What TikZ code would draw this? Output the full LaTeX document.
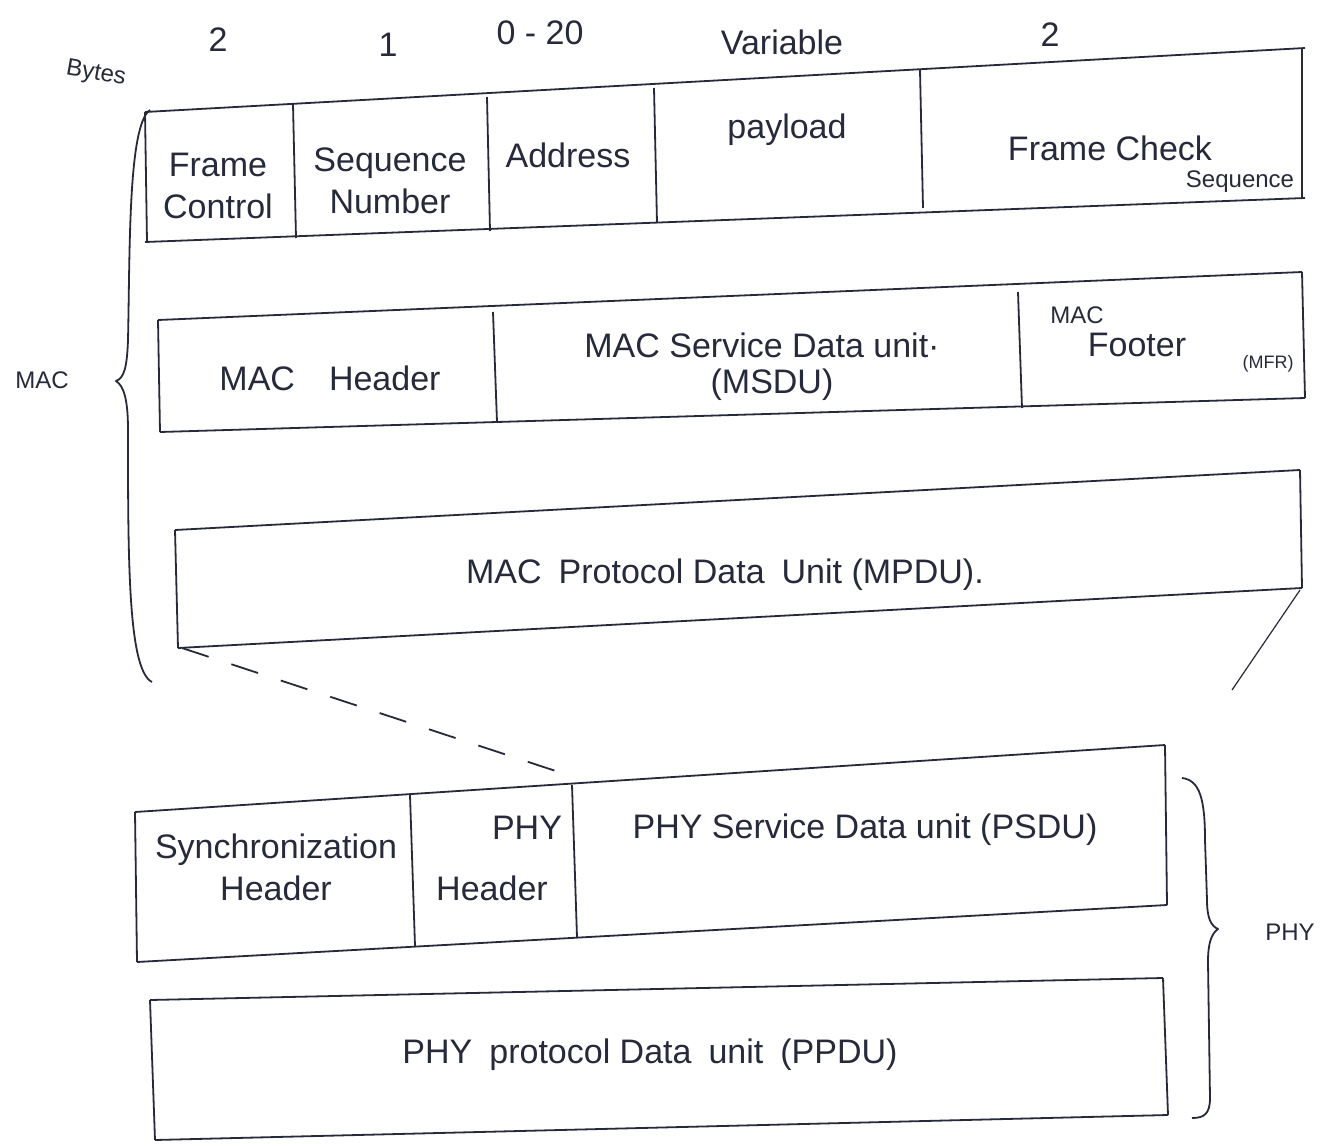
\documentclass[tikz,border=0pt]{standalone}
\usepackage{fontspec}
\setmainfont{Liberation Sans}
\begin{document}
\begin{tikzpicture}[x=0.5pt,y=-0.5pt,
  ink/.style={draw=inkc, line width=0.9pt, line join=round},
  lbl/.style={text=inkc, font=\fontsize{17}{21}\selectfont, inner sep=1pt, align=center},
  small/.style={text=inkc, font=\fontsize{12}{14}\selectfont, inner sep=1pt},
  tiny/.style={text=inkc, font=\fontsize{9}{11}\selectfont, inner sep=1pt}]
\definecolor{inkc}{RGB}{38,42,58}
\useasboundingbox (0,0) rectangle (1329,1146);
\fill[white] (0,0) rectangle (1329,1146);

% ---------- Row 1: frame fields ----------
\draw[ink] (145,112) -- (1305,48);
\draw[ink] (145,242) -- (1305,198);
\draw[ink] (145,112) -- (147,242);
\draw[ink] (293,104) -- (296,238);
\draw[ink] (487,97) -- (490,231);
\draw[ink] (654,88) -- (657,223);
\draw[ink] (920,70) -- (923,208);
\draw[ink] (1302,48) -- (1302,198);

\node[lbl] (b1) at (218,40) {2};
\node[lbl] (b2) at (388,45) {1};
\node[lbl] (b3) at (540,33) {0 - 20};
\node[lbl] (b4) at (782,42) {Variable};
\node[lbl] (b5) at (1050,35) {2};
\node[small, rotate=-10] (bytes) at (96,74) {Bytes};

\node[lbl] (fc) at (218,186) {Frame\\Control};
\node[lbl] (sn) at (390,181) {Sequence\\Number};
\node[lbl] (ad) at (568,155) {Address};
\node[lbl] (pl) at (787,130) {payload};
\node[lbl] (fcs1) at (1110,148) {Frame Check};
\node[small] (fcs2) at (1240,182) {Sequence};

% ---------- Row 2: MAC frame ----------
\draw[ink] (158,320) -- (1302,272);
\draw[ink] (160,432) -- (1305,398);
\draw[ink] (158,320) -- (160,432);
\draw[ink] (493,312) -- (497,422);
\draw[ink] (1018,292) -- (1022,408);
\draw[ink] (1302,272) -- (1305,398);

\node[lbl] (mh) at (330,378) {MAC\quad Header};
\node[lbl] (msdu1) at (762,345) {MAC Service Data unit\textperiodcentered};
\node[lbl] (msdu2) at (772,385) {(MSDU)};
\node[small] (mf1) at (1077,315) {MAC};
\node[lbl] (mf2) at (1137,345) {Footer};
\node[tiny] (mf3) at (1268,364) {(MFR)};

% ---------- Row 3: MPDU ----------
\draw[ink] (175,530) -- (1300,470);
\draw[ink] (178,648) -- (1302,588);
\draw[ink] (175,530) -- (178,648);
\draw[ink] (1300,470) -- (1302,588);
\node[lbl] (mpdu) at (725,575) {MAC\enspace Protocol Data\enspace Unit (MPDU).};

% MAC brace
\draw[ink] (150,110) .. controls (128,125) and (130,250) .. (128,340)
  .. controls (127,368) and (124,378) .. (116,381)
  .. controls (124,386) and (128,400) .. (128,430)
  .. controls (128,560) and (128,670) .. (152,682);
\node[small] (mac) at (42,380) {MAC};

% connectors MPDU -> PSDU
\coordinate (dA) at (182,648);
\coordinate (dB) at (574,777);
\draw[ink, dash pattern=on 14pt off 12pt] (dA) -- (dB);
\coordinate (sA) at (1300,590);
\coordinate (sB) at (1232,690);
\draw[ink, line width=0.6pt] (sA) -- (sB);

% ---------- Row 4: PHY frame ----------
\draw[ink] (135,812) -- (1165,745);
\draw[ink] (137,962) -- (1167,905);
\draw[ink] (135,812) -- (137,962);
\draw[ink] (410,795) -- (415,946);
\draw[ink] (572,785) -- (577,937);
\draw[ink] (1165,745) -- (1167,905);

\node[lbl] (sh) at (276,867) {Synchronization\\Header};
\node[lbl] (ph1) at (527,828) {PHY};
\node[lbl] (ph2) at (492,888) {Header};
\node[lbl] (psdu) at (865,830) {PHY Service Data unit (PSDU)};

% ---------- Row 5: PPDU ----------
\draw[ink] (150,1000) -- (1163,978);
\draw[ink] (155,1140) -- (1168,1115);
\draw[ink] (150,1000) -- (155,1140);
\draw[ink] (1163,978) -- (1168,1115);
\node[lbl] (ppdu) at (650,1055) {PHY\enspace protocol Data\enspace unit\enspace (PPDU)};

% PHY brace
\draw[ink] (1182,778) .. controls (1200,780) and (1205,800) .. (1205,840)
  -- (1207,900) .. controls (1207,918) and (1211,926) .. (1218,929)
  .. controls (1211,934) and (1208,944) .. (1208,962)
  -- (1210,1098) .. controls (1210,1114) and (1204,1118) .. (1192,1118);
\node[small] (phy) at (1290,932) {PHY};
\end{tikzpicture}
\end{document}
